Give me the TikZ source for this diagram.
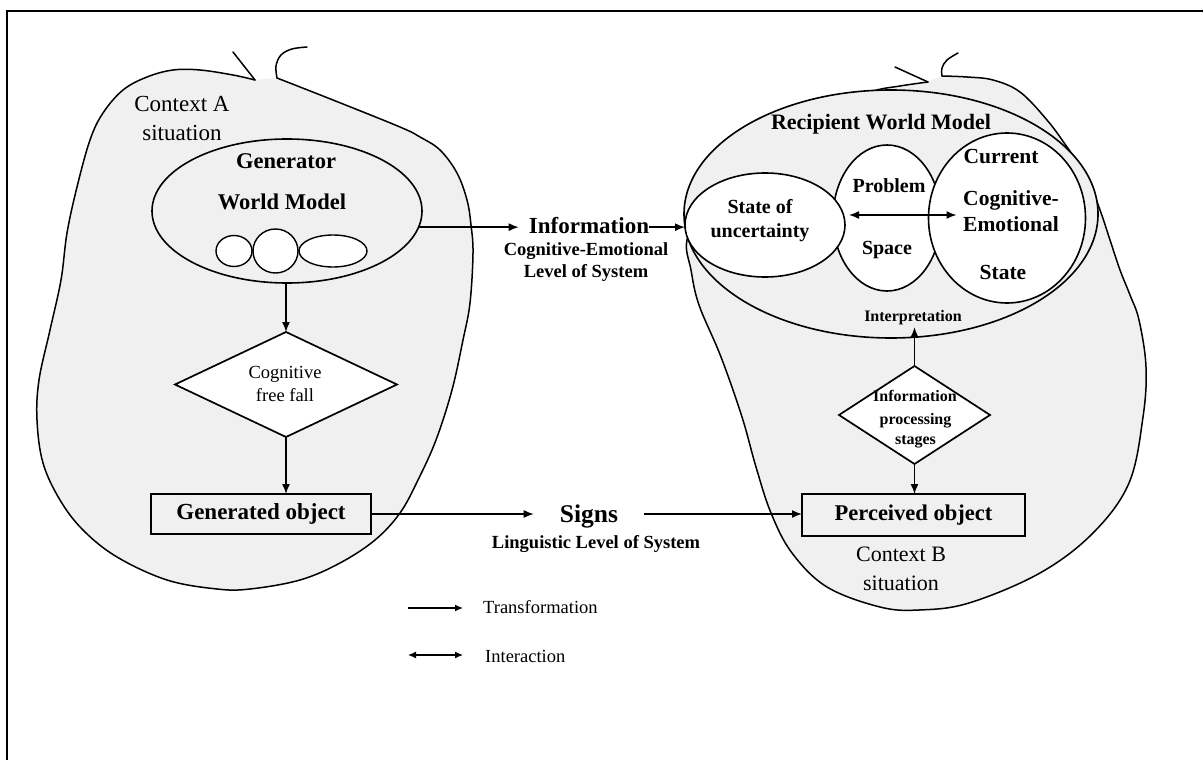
\documentclass[tikz,border=0pt]{standalone}
\usepackage{fontspec}
\setmainfont{Liberation Serif}
\usetikzlibrary{shapes.geometric,arrows.meta}
\definecolor{blobgrey}{RGB}{240,240,240}
\newcommand{\setfs}[1]{\fontsize{#1}{#1}\selectfont}

\begin{document}
\begin{tikzpicture}[x=1pt,y=-1pt,
  outline/.style={line width=1.5pt, line join=round, line cap=round},
  oval/.style={ellipse, draw, line width=1.6pt, inner sep=0pt, outer sep=0pt},
  rhomb/.style={diamond, draw, line width=1.7pt, fill=white, inner sep=0pt, outer sep=0pt},
  boxed/.style={rectangle, draw, line width=1.7pt, fill=blobgrey, inner sep=0pt, outer sep=0pt},
  txt/.style={inner sep=0pt, anchor=base},
  flow/.style={line width=1.5pt, -{Latex[length=10pt,width=8pt]}},
  both/.style={line width=1.5pt, {Latex[length=10pt,width=8pt]}-{Latex[length=10pt,width=8pt]}},
  key/.style={line width=1.3pt, -{Latex[length=8pt,width=7pt]}},
  keyboth/.style={line width=1.3pt, {Latex[length=8pt,width=7pt]}-{Latex[length=8pt,width=7pt]}}
]
\useasboundingbox (0,0) rectangle (1203,760);

% page frame (top and left rules)
\draw[line width=2pt] (1203,11) -- (7,11) -- (7,760);

% ---------- context A (generator side) ----------
\path[outline, fill=blobgrey, draw] plot[smooth, tension=0.6] coordinates {
  (255,80) (233,75) (200,70) (173,70) (147,77) (123,90) (103,113) (90,140)
  (77,187) (67,233) (61,280) (50,330) (39,380) (37,420) (43,463) (60,500)
  (83,530) (117,557) (167,580) (217,589) (250,589) (300,580) (340,563)
  (375,540) (400,513) (418,480) (436,440) (452,390) (463,340) (470,303)
  (473,253) (471,225) (467,200) (457,173) (440,150) (420,137) (400,127)
  (333,100) (277,78)};
\draw[outline] (233,52) -- (255,80);
\draw[outline] plot[smooth, tension=0.6] coordinates {(277,78) (276,66) (281,55) (292,49) (307,47)};

% ---------- context B (recipient side) ----------
\path[outline, fill=blobgrey, draw] plot[smooth, tension=0.6] coordinates {
  (928,82) (900,86) (870,92) (820,112) (750,155) (705,205) (687,240)
  (691,270) (699,305) (721,357) (742,417) (756,467) (771,513) (792,553)
  (827,587) (880,607) (919,610) (969,603) (1040,573) (1093,533) (1129,483)
  (1143,417) (1146,367) (1139,320) (1130,295) (1120,270) (1110,240)
  (1100,210) (1087,177) (1067,147) (1047,120) (1020,92) (993,80) (967,77)
  (942,76)};
\draw[outline] (895,67) -- (928,82);
\draw[outline] plot[smooth, tension=0.6] coordinates {(942,76) (942,68) (947,60) (958,53)};

% ---------- generator world model ----------
\node[oval, fill=blobgrey, minimum width=270pt, minimum height=144pt] (genwm) at (287,211) {};
\node[oval, fill=white, line width=1.4pt, minimum width=36pt, minimum height=31pt] (sub1) at (234,251) {};
\node[oval, fill=white, line width=1.4pt, minimum width=45pt, minimum height=44pt] (sub2) at (275.5,251) {};
\node[oval, fill=white, line width=1.4pt, minimum width=68pt, minimum height=32pt] (sub3) at (333,251) {};
\node[txt, font=\bfseries\setfs{22.5}] (gentitle) at (286,168) {Generator};
\node[txt, font=\bfseries\setfs{22.5}] (genwmtitle) at (282,209) {World Model};
\node[txt, font=\setfs{23}] (ctxa1) at (182,111.5) {Context A};
\node[txt, font=\setfs{23}] (ctxa2) at (182,140) {situation};

\node[rhomb, minimum width=222pt, minimum height=105pt] (cff) at (286,384.5) {};
\node[txt, font=\setfs{18.5}] (cff1) at (285,378) {Cognitive};
\node[txt, font=\setfs{18.5}] (cff2) at (285,401) {free fall};

\node[boxed, minimum width=220pt, minimum height=40pt, font=\bfseries\setfs{23}] (genobj) at (261,514) {Generated object};

% ---------- recipient world model ----------
\node[oval, fill=blobgrey, minimum width=414pt, minimum height=248pt] (rwm) at (891,214) {};
\node[oval, fill=white, minimum width=108pt, minimum height=146pt] (prob) at (887,218) {};
\node[oval, fill=white, minimum width=160pt, minimum height=104pt] (unc) at (765,225) {};
\node[oval, fill=white, minimum width=157pt, minimum height=170pt] (cur) at (1007,218) {};

\node[txt, font=\bfseries\setfs{22}] (rwmtitle) at (881,129) {Recipient World Model};
\node[txt, font=\bfseries\setfs{20}] (unc1) at (760,213) {State of};
\node[txt, font=\bfseries\setfs{20}] (unc2) at (760,237) {uncertainty};
\node[txt, font=\bfseries\setfs{20}] (prob1) at (889,192) {Problem};
\node[txt, font=\bfseries\setfs{20}] (prob2) at (887,254) {Space};
\node[txt, font=\bfseries\setfs{21.5}] (cur1) at (1001,163) {Current};
\node[txt, font=\bfseries\setfs{21.5}] (cur2) at (1011,205) {Cognitive-};
\node[txt, font=\bfseries\setfs{21.5}] (cur3) at (1011,231.5) {Emotional};
\node[txt, font=\bfseries\setfs{21.5}] (cur4) at (1003,279) {State};

\node[txt, font=\bfseries\setfs{16}] (interp) at (913,321.5) {Interpretation};

\node[rhomb, minimum width=151pt, minimum height=98pt] (ips) at (914.5,415) {};
\node[txt, font=\bfseries\setfs{16}] (ips1) at (915,401.5) {Information};
\node[txt, font=\bfseries\setfs{16}] (ips2) at (915.5,424) {processing};
\node[txt, font=\bfseries\setfs{16}] (ips3) at (915.5,444) {stages};

\node[boxed, minimum width=223pt, minimum height=42pt, font=\bfseries\setfs{22.5}] (perc) at (913.5,515) {Perceived object};

\node[txt, font=\setfs{22}] (ctxb1) at (901,561.5) {Context B};
\node[txt, font=\setfs{22}] (ctxb2) at (901,590) {situation};

% ---------- channel labels ----------
\node[txt, font=\bfseries\setfs{23}] (info) at (589,233) {Information};
\node[txt, font=\bfseries\setfs{18.5}] (info1) at (586,255) {Cognitive-Emotional};
\node[txt, font=\bfseries\setfs{18.5}] (info2) at (586,277) {Level of System};

\node[txt, font=\bfseries\setfs{25.5}, inner xsep=26pt] (signs) at (589,522) {Signs};
\node[txt, font=\bfseries\setfs{18.5}] (signs1) at (596,548) {Linguistic Level of System};

% ---------- connectors ----------
\draw[flow] (cff.north |- genwm.south) -- (cff.north);
\draw[flow] (cff.south) -- (cff.south |- genobj.north);

\draw[flow, shorten >=10pt] (genwm.-7) -- (genwm.-7 -| info.west);
\draw[flow] (genwm.-7 -| info.east) -- (genwm.-7 -| unc.west);

\draw[flow] (genobj.east) -- (genobj.east -| signs.west);
\draw[flow] (genobj.east -| signs.east) -- (genobj.east -| perc.west);

\draw[flow] (ips.south) -- (ips.south |- perc.north);
\draw[flow] (ips.north) -- ([yshift=-2pt]ips.north |- interp.south);

\draw[both] ([shift={(4,-10)}]unc.east) -- ([shift={(28,-3)}]cur.west);

% ---------- key ----------
\coordinate (trA) at (408,608);
\coordinate (trB) at (463,608);
\coordinate (inA) at (408,655);
\coordinate (inB) at (463,655);
\draw[key] (trA) -- (trB);
\draw[keyboth] (inA) -- (inB);
\node[txt, anchor=base west, font=\setfs{18.5}] (trans) at (483,613) {Transformation};
\node[txt, anchor=base west, font=\setfs{18.5}] (inter) at (485,662) {Interaction};

\end{tikzpicture}
\end{document}
